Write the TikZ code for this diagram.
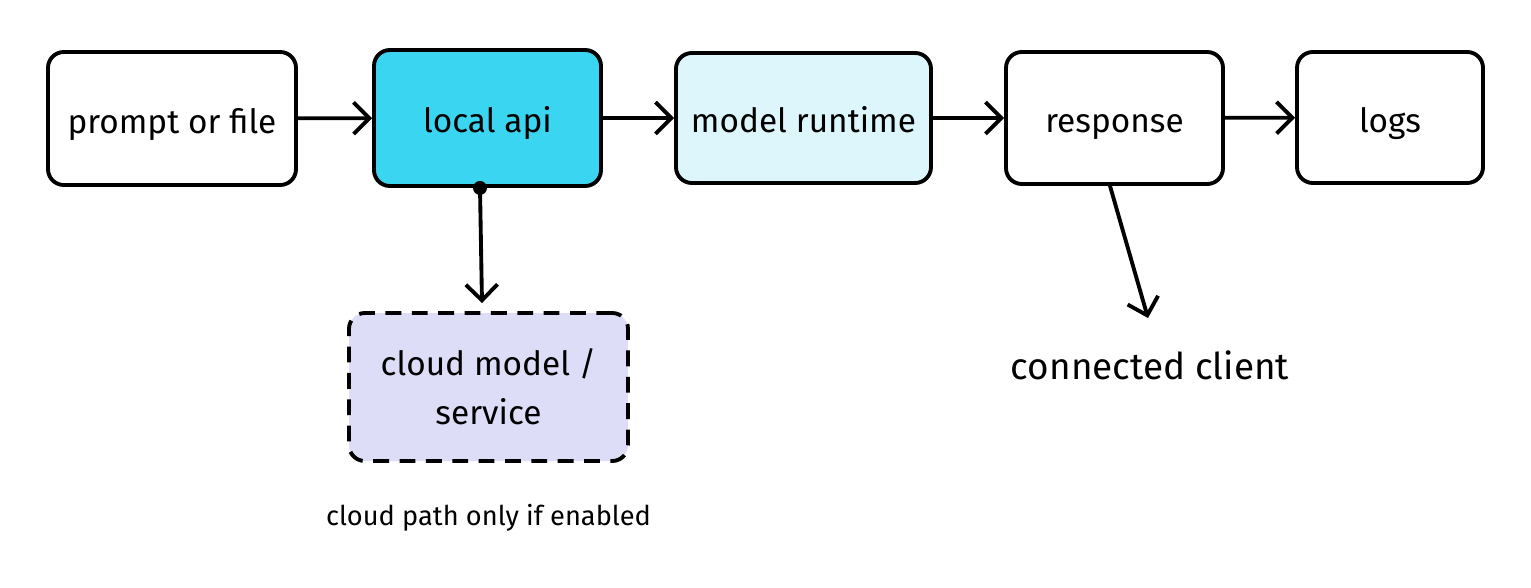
\documentclass[tikz,border=0pt]{standalone}
\usepackage{fontspec}
\setmainfont{Fira Sans}
\definecolor{ApiCyan}{HTML}{3AD5F0}
\definecolor{RuntimeCyan}{HTML}{DDF6FB}
\definecolor{CloudLilac}{HTML}{DDDDF8}
\usetikzlibrary{positioning, arrows.meta}

\begin{document}
\begin{tikzpicture}[
  box/.style={draw=black, line width=2.2pt, rounded corners=9pt, align=center,
              font=\fontsize{19}{28}\selectfont, inner sep=0pt},
  oneline/.style={text height=20pt, text depth=3pt},
  flow/.style={line width=2.2pt, line cap=round, -{Straight Barb[length=9pt, width=18pt]}},
  lbl/.style={font=\fontsize{21}{24}\selectfont},
  note/.style={font=\fontsize{15.5}{18}\selectfont},
]
  \useasboundingbox (0,0) rectangle (30.62,-11.74);
  % main pipeline
  \node[box, oneline, minimum width=4.96cm, minimum height=2.66cm] (prompt) at (3.44,-2.37) {prompt or file};
  \node[box, oneline, fill=ApiCyan, minimum width=4.54cm, minimum height=2.72cm] (api) at (9.75,-2.36) {local api};
  \node[box, oneline, fill=RuntimeCyan, minimum width=5.10cm, minimum height=2.60cm] (runtime) at (16.07,-2.36) {model runtime};
  \node[box, oneline, minimum width=4.34cm, minimum height=2.64cm] (resp) at (22.29,-2.36) {response};
  \node[box, oneline, minimum width=3.72cm, minimum height=2.62cm] (logs) at (27.80,-2.35) {logs};
  % optional cloud branch
  \node[box, dashed, dash pattern=on 9pt off 6pt, fill=CloudLilac, minimum width=5.58cm, minimum height=2.96cm] (cloud) at (9.77,-7.74) {cloud model /\\service};
  \node[note, below=0.7cm of cloud] (hint) {cloud path only if enabled};
  \node[lbl] (client) at (23.0,-7.30) {connected client};
  \coordinate (clientin) at (22.96,-6.36);

  \draw[flow] (prompt) -- (api);
  \draw[flow] (api) -- (runtime);
  \draw[flow] (runtime) -- (resp);
  \draw[flow] (resp) -- (logs);
  \fill ([xshift=-0.15cm]api.south) circle (0.14);
  \draw[flow] ([xshift=-0.15cm]api.south) -- ([xshift=-0.13cm, yshift=0.16cm]cloud.north);
  \draw[flow] ([xshift=-0.09cm]resp.south) -- (clientin);
\end{tikzpicture}
\end{document}
